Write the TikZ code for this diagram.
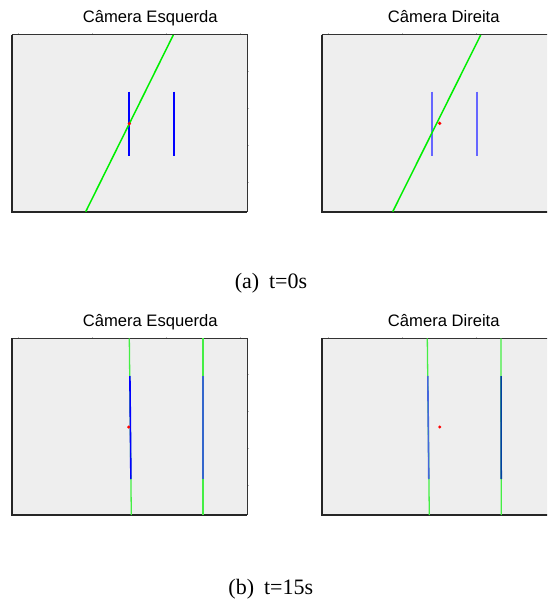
\documentclass[tikz,border=0pt]{standalone}
\usepackage{fontspec}
\setmainfont{Liberation Serif}
\setsansfont{Liberation Sans}
\definecolor{panelgray}{RGB}{238,238,238}
\definecolor{edgegray}{RGB}{51,51,51}
\definecolor{tickgray}{RGB}{187,187,187}
\definecolor{linegreen}{RGB}{0,238,0}
\definecolor{softgreen}{RGB}{68,238,68}
\definecolor{lineblue}{RGB}{0,0,255}
\definecolor{paleblue}{RGB}{102,102,255}
\definecolor{steelb}{RGB}{51,102,204}
\definecolor{midblue}{RGB}{68,102,221}
\definecolor{navyb}{RGB}{0,64,160}
\begin{document}
\begin{tikzpicture}[x=1pt,y=-1pt,
  paneltitle/.style={font=\sffamily\fontsize{16.6}{18}\selectfont, anchor=base, inner sep=0pt},
  captiontext/.style={font=\rmfamily\fontsize{22}{24}\selectfont, anchor=base, inner sep=0pt},
  greenline/.style={color=linegreen, line width=1.5pt},
  softgreenline/.style={color=softgreen, line width=1.3pt},
  blueline/.style={line width=1.6pt},
  reddot/.style={fill=red, draw=none},
  frametop/.style={color=edgegray, line width=1pt},
  framebottom/.style={color=black!85, line width=1.6pt},
  tickmark/.style={color=tickgray, line width=0.8pt}]
\useasboundingbox (0,0) rectangle (547,599);
\clip (0,0) rectangle (547,599);
\fill[white] (0,0) rectangle (547,599);

% generic frame
\newcommand{\camframe}{%
  \fill[panelgray] (0,0) rectangle (235.3,176.7);
  \draw[tickmark] (6.6,0) -- (6.6,-1.5);
  \draw[tickmark] (80.6,0) -- (80.6,-1.5);
  \draw[tickmark] (154.3,0) -- (154.3,-1.5);
  \draw[tickmark] (228.3,0) -- (228.3,-1.5);
  \draw[tickmark] (235.3,36.3) -- (237.5,36.3);
  \draw[tickmark] (235.3,73.3) -- (237.5,73.3);
  \draw[tickmark] (235.3,110.3) -- (237.5,110.3);
  \draw[tickmark] (235.3,147.3) -- (237.5,147.3);
  \draw[frametop] (0,0) -- (235.3,0) -- (235.3,176.7);
  \draw[framebottom] (0,0) -- (0,176.7) -- (235.3,176.7);
}

% top-left panel
\begin{scope}[shift={(11.7,35)}]
  \camframe
  \draw[blueline, color=lineblue] (117.4,56.7) -- (117.4,120.7);
  \draw[blueline, color=lineblue] (162.3,56.7) -- (162.3,120.7);
  \draw[greenline] (161.6,0) -- (74,176.7);
  \fill[reddot] (117.6,88.7) circle (1.8);
\end{scope}

% top-right panel
\begin{scope}[shift={(321.7,35)}]
  \camframe
  \draw[blueline, color=paleblue] (110.3,56.7) -- (110.3,120.7);
  \draw[blueline, color=paleblue] (155.3,56.7) -- (155.3,120.7);
  \draw[greenline] (159,0) -- (71,176.7);
  \fill[reddot] (118,88.3) circle (1.8);
\end{scope}

% bottom-left panel
\begin{scope}[shift={(11.7,338.3)}]
  \camframe
  \draw[softgreenline] (117.6,0) -- (119.6,176.7);
  \draw[softgreenline] (191.4,0) -- (191.4,176.7);
  \draw[blueline, color=lineblue] (118.2,37.7) -- (119.2,140.7);
  \draw[blueline, color=steelb] (191.3,37.7) -- (191.3,140.7);
  \fill[reddot] (117,88.7) circle (1.7);
\end{scope}

% bottom-right panel
\begin{scope}[shift={(321.7,338.3)}]
  \camframe
  \draw[softgreenline] (105.6,0) -- (107.6,176.7);
  \draw[softgreenline] (179.3,0) -- (179.6,176.7);
  \draw[blueline, color=midblue] (106.1,37.7) -- (107.1,140.7);
  \draw[blueline, color=navyb] (179.4,37.7) -- (179.5,140.7);
  \fill[reddot] (118,88.7) circle (1.7);
\end{scope}

% titles
\node[paneltitle] (tl) at (150.2,22.7) {Câmera Esquerda};
\node[paneltitle] (tr) at (443.8,22.7) {Câmera Direita};
\node[paneltitle] (bl) at (150.2,326) {Câmera Esquerda};
\node[paneltitle] (br) at (443.8,326) {Câmera Direita};

% captions
\node[captiontext] (capa) at (271,288.5) {(a)\hspace{0.45em}t=0s};
\node[captiontext] (capb) at (270.8,594) {(b)\hspace{0.45em}t=15s};
\end{tikzpicture}
\end{document}
